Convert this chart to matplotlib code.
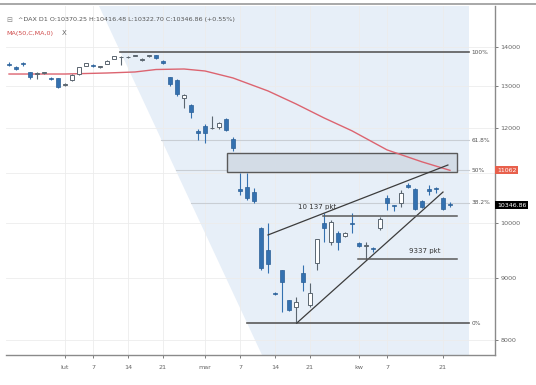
import numpy as np
import matplotlib.pyplot as plt
from matplotlib.lines import Line2D
from matplotlib.patches import Polygon, Rectangle
from matplotlib.ticker import NullLocator

# DAX daily candles, 22 Jan - 22 Apr 2020 (one entry per session)
opens = [13560, 13480, 13580, 13350, 13300, 13320, 13190, 13190, 13020, 13150,
         13290, 13510, 13530, 13470, 13560, 13690, 13740, 13730, 13770, 13660,
         13760, 13780, 13640, 13220, 13150, 12700, 12530, 11920, 12040, 11990,
         12010, 12200, 11740, 10680, 10720, 10620, 9910, 9500, 8760, 9140,
         8630, 8520, 9090, 8550, 9270, 10000, 9650, 9815, 9760, 10010,
         9620, 9580, 9540, 9910, 10490, 10350, 10400, 10760, 10680, 10430,
         10680, 10700, 10500, 10370.25]
highs = [13600, 13500, 13600, 13360, 13340, 13360, 13210, 13200, 13080, 13290,
         13480, 13580, 13540, 13500, 13650, 13760, 13760, 13760, 13800, 13700,
         13795, 13790, 13650, 13230, 13170, 12790, 12560, 11960, 12080, 12270,
         12130, 12220, 11780, 11000, 11000, 10690, 9930, 10000, 8770, 9150,
         8640, 8690, 9230, 8920, 9710, 10200, 10060, 9860, 9830, 10200,
         9640, 9650, 9560, 10120, 10550, 10360, 10650, 10790, 10700, 10460,
         10760, 10710, 10520, 10416.48]
lows = [13490, 13390, 13500, 13180, 13170, 13300, 13150, 12950, 13000, 13130,
        13280, 13490, 13470, 13440, 13550, 13680, 13530, 13720, 13750, 13640,
        13740, 13680, 13560, 13000, 12760, 12450, 12230, 11730, 11650, 11960,
        11980, 11930, 11480, 10560, 10450, 10390, 9140, 9090, 8720, 8440,
        8460, 8270, 8780, 8520, 9140, 9640, 9600, 9500, 9740, 9815,
        9560, 9330, 9470, 9880, 10260, 10240, 10320, 10700, 10250, 10300,
        10560, 10600, 10260, 10322.70]
closes = [13515, 13430, 13540, 13220, 13320, 13345, 13160, 12980, 13050, 13270,
          13480, 13575, 13510, 13490, 13630, 13750, 13745, 13745, 13785, 13680,
          13790, 13700, 13580, 13035, 12790, 12774, 12367, 11890, 11880, 12000,
          12110, 11945, 11540, 10640, 10500, 10440, 9180, 9250, 8740, 8940,
          8470, 8610, 8930, 8750, 9700, 9900, 10020, 9640, 9815, 9990,
          9570, 9600, 9525, 10080, 10400, 10335, 10590, 10720, 10280, 10320,
          10630, 10680, 10280, 10346.86]

# MA(50) (session index, value)
ma_idx = [0, 8, 14, 18, 21, 25, 28, 32, 37, 41, 45, 49, 54, 59, 63]
ma_val = [13296, 13296, 13322, 13348, 13411, 13424, 13373, 13196, 12873,
          12558, 12227, 11929, 11503, 11243, 11062]

date_ticks = [8, 12, 17, 22, 28, 33, 38, 43, 50, 54, 62]
date_labels = ["lut", "7", "14", "21", "mar", "7", "14", "21", "kw", "7", "21"]
price_ticks = [8000, 9000, 10000, 11000, 12000, 13000, 14000]

# fibonacci retracement drawn from the Feb high to the Mar low
fib_high, fib_low = 13860, 8263
fib_start, fib_end = 15.9, 34.0
fib_levels = [1.0, 0.618, 0.5, 0.382, 0.0]
fib_labels = ["100%", "61.8%", "50%", "38.2%", "0%"]

# drawings
upper_trend = ([37.0, 62.7], [9778, 11175])
lower_trend = ([41.1, 62.0], [8263, 10613])
zone = (31.1, 64.0, 11028, 11434)
support_lvls = [10137, 9337]
support_from = [44.9, 49.9]
support_text = ["10 137 pkt", "9337 pkt"]

last_close = 10346.86
mid_level = 11062

UP_EDGE = "#5b6670"
DOWN = "#3471b0"
GRID = "#ececec"
AXIS = "#8a8a8a"

fig = plt.figure(figsize=(5.36, 3.85), dpi=100)
ax = fig.add_axes([6 / 536, 30 / 385, 489 / 536, 349 / 385])
ax.set_yscale("log")
y0, y1 = 7775, 15140
ax.set_ylim(y0, y1)
ax.set_xlim(-0.43, 69.43)

# shaded fib area, left edge is the high->low diagonal extended
def diag_x(p):
    t = np.log(fib_high / p) / np.log(fib_high / fib_low)
    return fib_start + t * (fib_end - fib_start)

right_x = 65.7
ax.add_patch(Polygon([(diag_x(y1), y1), (right_x, y1), (right_x, y0), (diag_x(y0), y0)],
                     closed=True, facecolor="#e7eff8", edgecolor="none", zorder=0))

# grid
for p in price_ticks:
    ax.axhline(p, color=GRID, lw=0.6, zorder=0.5)
for t in date_ticks:
    ax.axvline(t, color=GRID, lw=0.6, zorder=0.5)

# fib lines
for lv, lbl in zip(fib_levels, fib_labels):
    p = fib_low + lv * (fib_high - fib_low)
    strong = lv in (0.0, 1.0)
    ax.plot([diag_x(p), right_x], [p, p], color="#5a5a5a" if strong else "#c9ced4",
            lw=1.2 if strong else 0.8, zorder=1)
    ax.text(right_x + 0.4, p, lbl, fontsize=4.2, color="#555555", va="center", ha="left")

# zone rectangle
ax.add_patch(Rectangle((zone[0], zone[2]), zone[1] - zone[0], zone[3] - zone[2],
                       facecolor="#d3dce6", edgecolor="#5a5a5a", lw=1.0, zorder=1.5))

# moving average
ax.plot(ma_idx, ma_val, color="#dc6470", lw=1.0, zorder=2)

# candles
x = np.arange(len(opens))
o, h, l, c = (np.array(v, dtype=float) for v in (opens, highs, lows, closes))
up = c >= o
ax.vlines(x[up], l[up], h[up], color=UP_EDGE, lw=0.8, zorder=3)
ax.vlines(x[~up], l[~up], h[~up], color=DOWN, lw=0.8, zorder=3)
ax.bar(x[~up], (o - c)[~up], bottom=c[~up], width=0.66, color=DOWN,
       edgecolor="#2b5f96", lw=0.5, zorder=4)
ax.bar(x[up], (c - o)[up], bottom=o[up], width=0.66, color="white",
       edgecolor=UP_EDGE, lw=0.7, zorder=4)

# trend lines and supports
ax.plot(*upper_trend, color="#3c3c3c", lw=0.9, zorder=5)
ax.plot(*lower_trend, color="#3c3c3c", lw=0.9, zorder=5)
for lvl, x_from, txt in zip(support_lvls, support_from, support_text):
    ax.plot([x_from, 64.0], [lvl, lvl], color="#5a5a5a", lw=1.1, zorder=5)
ax.text(41.3, support_lvls[0] * 1.012, support_text[0], fontsize=5, color="#333333",
        va="bottom", ha="left", zorder=6)
ax.text(57.2, support_lvls[1] * 1.01, support_text[1], fontsize=5, color="#333333",
        va="bottom", ha="left", zorder=6)

# axes styling
for s in ("left", "top"):
    ax.spines[s].set_visible(False)
for s in ("right", "bottom"):
    ax.spines[s].set_color(AXIS)
    ax.spines[s].set_linewidth(1.0)
ax.yaxis.tick_right()
ax.yaxis.set_minor_locator(NullLocator())
ax.set_yticks(price_ticks)
ax.set_yticklabels(["" if p == 11000 else str(p) for p in price_ticks])
ax.set_xticks(date_ticks)
ax.set_xticklabels(date_labels)
ax.tick_params(axis="both", labelsize=4.6, colors="#666666", length=2, width=0.6, pad=2)
ax.tick_params(axis="x", pad=5)

ytf = ax.get_yaxis_transform()
ax.text(1.004, mid_level, "11062", transform=ytf, fontsize=4.5, color="white",
        va="center", ha="left", bbox=dict(boxstyle="square,pad=0.25", fc="#e8604c", ec="none"))
ax.text(1.004, last_close, "10346.86", transform=ytf, fontsize=4.5, color="white",
        va="center", ha="left", bbox=dict(boxstyle="square,pad=0.25", fc="black", ec="none"))

# header
fig.add_artist(Line2D([0, 1], [1 - 4 / 385] * 2, color="#9a9a9a", lw=1.2))
fig.text(6 / 536, 1 - 20 / 385, "\u229f", fontsize=5, color="#888888", va="center")
fig.text(18 / 536, 1 - 20 / 385,
         "^DAX D1 O:10370.25 H:10416.48 L:10322.70 C:10346.86 (+0.55%)",
         fontsize=4.6, color="#555555", va="center")
fig.text(6 / 536, 1 - 33 / 385, "MA(50,C,MA,0)", fontsize=4.6, color="#d04a4a", va="center")
fig.text(62 / 536, 1 - 33 / 385, "X", fontsize=5, color="#666666", va="center")

fig.savefig("out.png", dpi=100)
